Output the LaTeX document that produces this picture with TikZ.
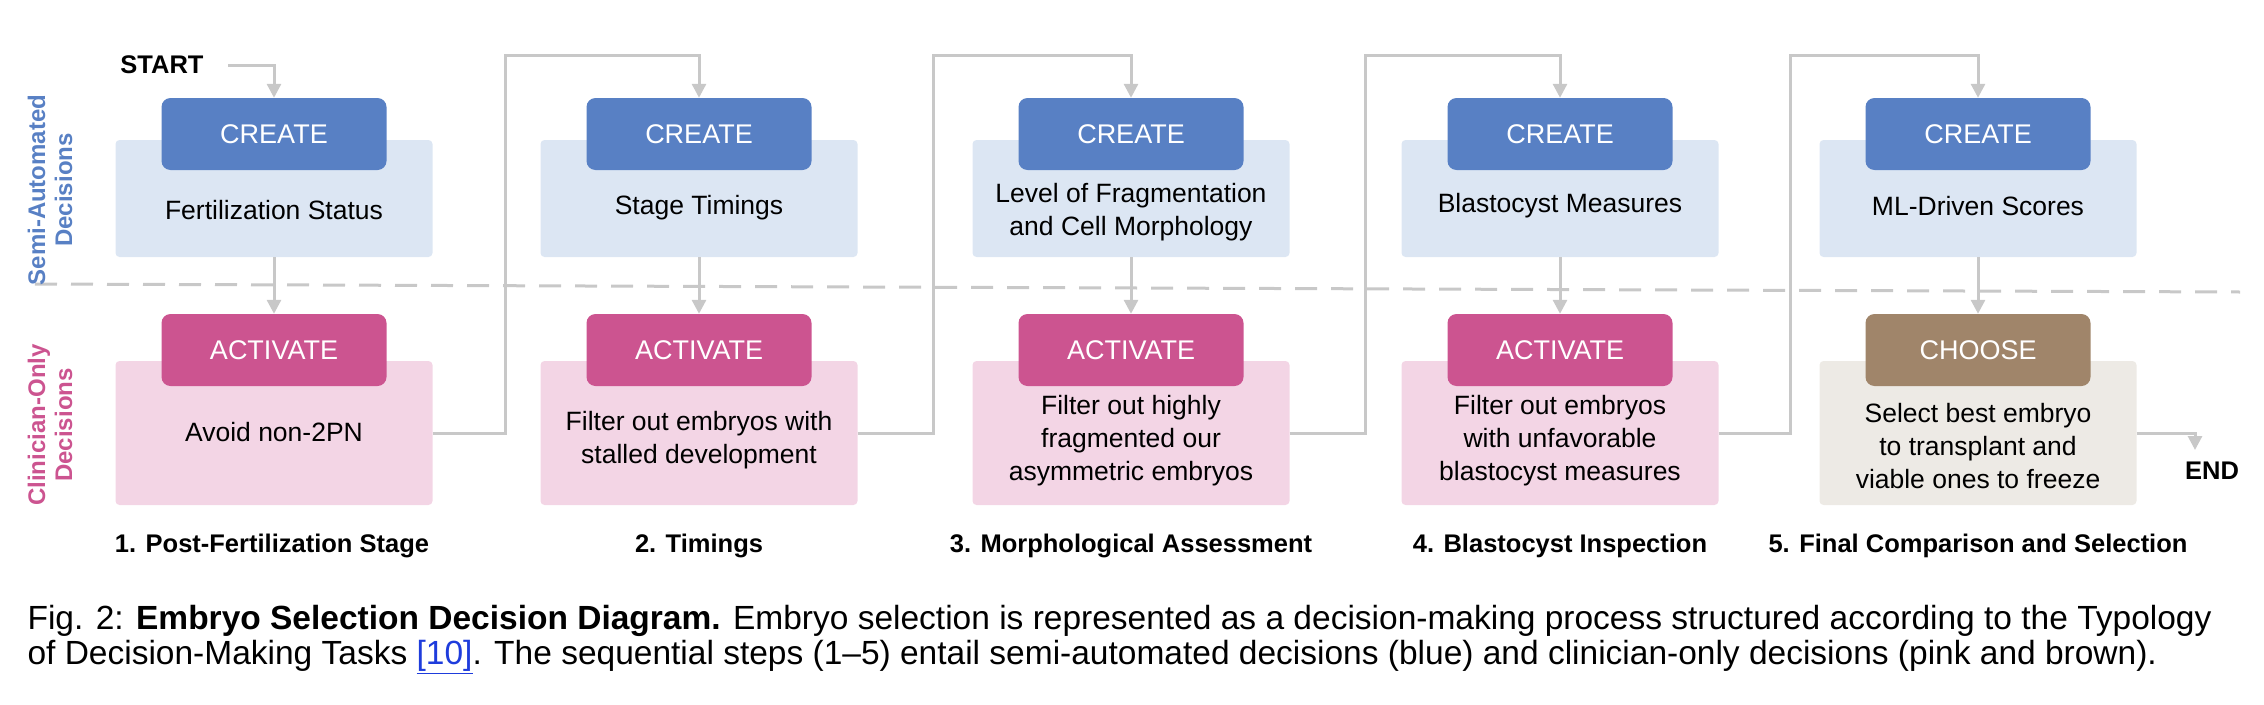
\documentclass[tikz,border=0pt]{standalone}
\usepackage{fontspec}
\setmainfont{Liberation Sans}
\usetikzlibrary{arrows.meta}
\definecolor{tabblue}{RGB}{88,128,196}
\definecolor{tabpink}{RGB}{204,84,144}
\definecolor{tabbrown}{RGB}{160,133,106}
\definecolor{boxblue}{RGB}{220,230,243}
\definecolor{boxpink}{RGB}{243,213,229}
\definecolor{boxbeige}{RGB}{237,234,229}
\definecolor{linkgrey}{RGB}{200,200,200}
\definecolor{refblue}{RGB}{30,60,220}
\tikzset{
  panel/.style={rounded corners=4pt, minimum width=317pt, inner sep=0pt},
  tab/.style={rounded corners=9pt, minimum width=225pt, minimum height=72pt, text=white, font=\fontsize{27}{30}\selectfont},
  body/.style={align=center, font=\fontsize{26.5}{33}\selectfont},
  stage/.style={font=\bfseries\fontsize{25.5}{28}\selectfont},
  link/.style={draw=linkgrey, line width=3pt, -{Triangle[length=14pt,width=14pt]}},
  lane/.style={font=\bfseries\fontsize{24}{27}\selectfont, align=center, rotate=90},
}
\begin{document}
\begin{tikzpicture}[x=1pt,y=1pt,yscale=-1]
  \useasboundingbox (0,0) rectangle (2264,704);
  % dashed lane separator
  \draw [linkgrey, line width=3pt, dash pattern=on 22pt off 14pt] (35,284) -- (2240,292);
  % lane titles
  \node [lane, text=tabblue] (lsemi) at (50,190) {Semi-Automated\\Decisions};
  \node [lane, text=tabpink] (lclin) at (50,425) {Clinician-Only\\Decisions};
  % panels and tabs
  \foreach \n/\cx/\fc/\tc/\tt in {1/274/boxpink/tabpink/ACTIVATE, 2/699/boxpink/tabpink/ACTIVATE, 3/1131/boxpink/tabpink/ACTIVATE, 4/1560/boxpink/tabpink/ACTIVATE, 5/1978/boxbeige/tabbrown/CHOOSE} {
    \node [panel, fill=boxblue, minimum height=117pt] (b\n) at (\cx,198.5) {};
    \node [tab, fill=tabblue] (c\n) at (\cx,134) {CREATE};
    \node [panel, fill=\fc, minimum height=144pt] (p\n) at (\cx,433) {};
    \node [tab, fill=\tc] (a\n) at (\cx,350) {\tt};
  }
  % Text Node
  \node [body] (t1) at (274,210) {Fertilization Status};
  \node [body] (t2) at (699,208) {Stage Timings};
  \node [body] (t3) at (1131,212) {Level of Fragmentation\\and Cell Morphology};
  \node [body] (t4) at (1560,206) {Blastocyst Measures};
  \node [body] (t5) at (1978,206) {ML-Driven Scores};
  \node [body] (s1) at (274,432) {Avoid non-2PN};
  \node [body] (s2) at (699,440) {Filter out embryos with\\stalled development};
  \node [body] (s3) at (1131,441) {Filter out highly\\fragmented our\\asymmetric embryos};
  \node [body] (s4) at (1560,441) {Filter out embryos\\with unfavorable\\blastocyst measures};
  \node [body] (s5) at (1978,446) {Select best embryo\\to transplant and\\viable ones to freeze};
  % stage labels
  \node [stage] (g1) at (272,546) {1. Post-Fertilization Stage};
  \node [stage] (g2) at (699,546) {2. Timings};
  \node [stage] (g3) at (1131,546) {3. Morphological Assessment};
  \node [stage] (g4) at (1560,546) {4. Blastocyst Inspection};
  \node [stage] (g5) at (1978,546) {5. Final Comparison and Selection};
  % start and end
  \node [stage] (start) at (162,65) {START};
  \node [stage] (end) at (2212,471) {END};
  \coordinate (k0) at (228,65);
  \coordinate (e0) at (2195,450);
  \coordinate (k1) at (505,55);
  \coordinate (k2) at (933,55);
  \coordinate (k3) at (1365,55);
  \coordinate (k4) at (1790,55);
  % connectors
  \draw [link] (k0) -| (c1.north);
  \foreach \n in {1,...,5} { \draw [link] (b\n.south) -- (a\n.north); }
  \draw [link] (p1.east) -| (k1) -| (c2.north);
  \draw [link] (p2.east) -| (k2) -| (c3.north);
  \draw [link] (p3.east) -| (k3) -| (c4.north);
  \draw [link] (p4.east) -| (k4) -| (c5.north);
  \draw [link] (p5.east) -| (e0);
  % caption
  \node [anchor=west, font=\fontsize{33.5}{38}\selectfont] (cap1) at (24,621) {Fig. 2: \textbf{Embryo Selection Decision Diagram.} Embryo selection is represented as a decision-making process structured according to the Typology};
  \node [anchor=west, font=\fontsize{33.5}{38}\selectfont] (cap2) at (24,657) {of Decision-Making Tasks \textcolor{refblue}{\underline{[10]}}. The sequential steps (1--5) entail semi-automated decisions (blue) and clinician-only decisions (pink and brown).};
\end{tikzpicture}
\end{document}
